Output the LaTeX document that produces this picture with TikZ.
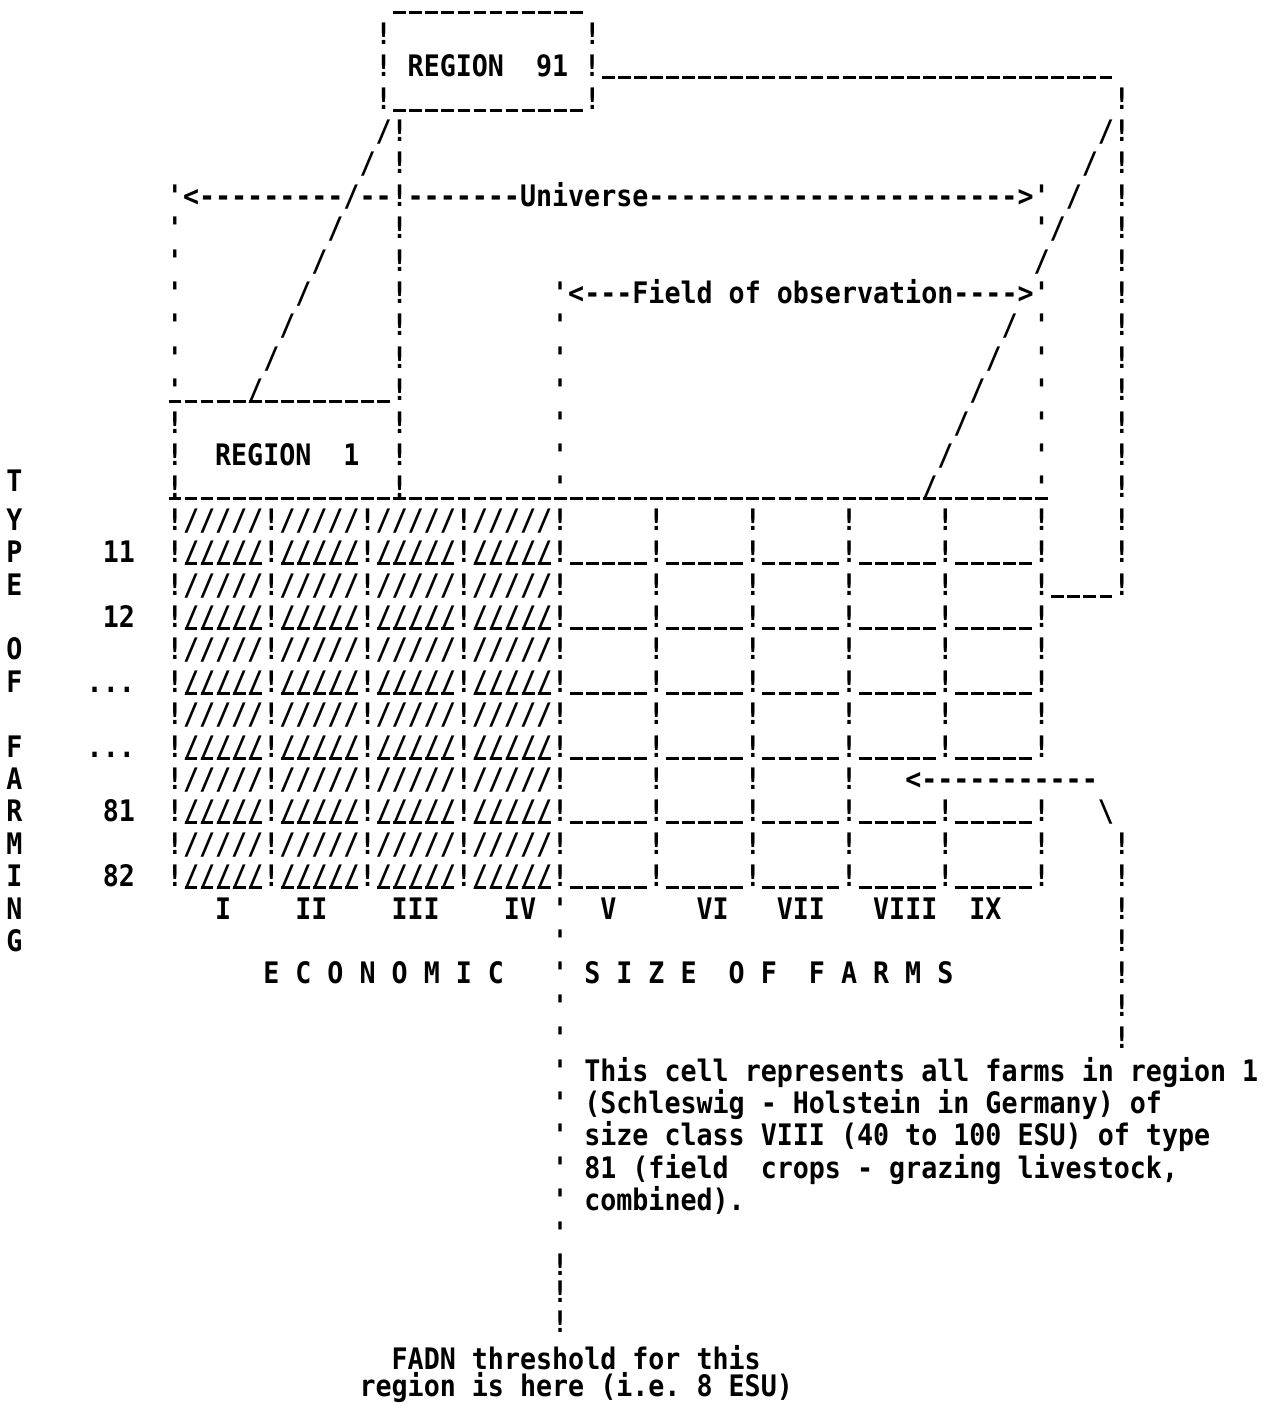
\documentclass[tikz,border=0pt]{standalone}
\usepackage{fontspec}
\setmonofont{DejaVu Sans Mono}[FakeStretch=0.9]
\frenchspacing
\tikzset{
  tt/.style={anchor=base west, inner sep=0pt, outer sep=0pt,
    font=\ttfamily\bfseries\fontsize{14.81}{16}\selectfont,
    xshift=-4.0125pt, yshift=-5.4pt},
  ubar/.style={line width=1.5pt, dash pattern=on 6.4pt off 1.625pt,
    dash phase=7.2125pt, yshift=-5.9pt}
}
\begin{document}
\begin{tikzpicture}[x=8.025pt, y=-16.2pt]
  \useasboundingbox (-10.903,-0.031) rectangle (68.349,43.333);

  % Region 91 box
  \draw[ubar] (13.5,0) -- (25.5,0);
  \node[tt] (b91a) at (13,1) {!};
  \node[tt] (b91b) at (26,1) {!};
  \node[tt] (reg91) at (13,2) {!~REGION~~91~!};
  \draw[ubar] (26.5,2) -- (58.5,2);
  \node[tt] (b91c) at (13,3) {!};
  \node[tt] (b91d) at (26,3) {!};
  \draw[ubar] (13.5,3) -- (25.5,3);

  % Universe and field of observation
  \node[tt] (univ) at (0,6) {'<---------/--!-------Universe----------------------->'};
  \node[tt] (field) at (24,9) {'<---Field of observation---->'};

  % Region 1 box
  \draw[ubar] (-0.5,12) -- (13.5,12);
  \node[tt] (reg1) at (0,14) {!~~REGION~~1~~!};
  \draw[ubar] (-0.5,15) -- (54.5,15);

  % Vertical strokes
  \foreach \r in {7,...,12} \node[tt] (ua\r) at (0,\r) {'};
  \foreach \r in {13,15} \node[tt] (ub\r) at (0,\r) {!};
  \foreach \r in {4,5,7,8,...,13,15} \node[tt] (uc\r) at (14,\r) {!};
  \foreach \r in {10,...,15,28,29,...,38} \node[tt] (ud\r) at (24,\r) {'};
  \foreach \r in {39,39.85,40.75} \node[tt] (ue\r) at (24,\r) {!};
  \foreach \r in {7,10,11,...,15} \node[tt] (uf\r) at (54,\r) {'};
  \foreach \r in {3,...,18,26,27,...,32} \node[tt] (ug\r) at (59,\r) {!};

  % Diagonals
  \foreach \r in {4,5,7,8,...,12} \node[tt] (dl\r) at ({17-\r},\r) {/};
  \foreach \r in {4,...,8,10,11,...,15} \node[tt] (dr\r) at ({62-\r},\r) {/};

  % Table of cells
  \foreach \r in {16,...,27} \node[tt] (hl\r) at (0,\r) {!/////!/////!/////!/////!};
  \foreach \r in {16,...,23,25,26,27} \node[tt] (hr\r) at (30,\r) {!~~~~~!~~~~~!~~~~~!~~~~~!};
  \node[tt] (ptr) at (30,24) {!~~~~~!~~~~~!~~~<-----------};
  \node[tt] (bsl) at (58,25) {\textbackslash};
  \foreach \r in {17,19,...,27}
    \foreach \g in {0,...,8}
      \draw[ubar] ({6*\g+0.5},\r) -- ({6*\g+5.5},\r);
  \draw[ubar] (54.5,18) -- (58.5,18);

  % Type of farming
  \foreach \r/\l in {14.8/T,16/Y,17/P,18/E,20/O,21/F,23/F,24/A,25/R,26/M,27/I,28/N,29/G}
    \node[tt] (tf\r) at (-10,\r) {\l};
  \node[tt] (t11) at (-4,17) {11};
  \node[tt] (t12) at (-4,19) {12};
  \node[tt] (tda) at (-5,21) {...};
  \node[tt] (tdb) at (-5,23) {...};
  \node[tt] (t81) at (-4,25) {81};
  \node[tt] (t82) at (-4,27) {82};

  % Size classes
  \node[tt] (esl) at (3,28) {I~~~~II~~~~III~~~~IV};
  \node[tt] (esr) at (27,28) {V~~~~~VI~~~VII~~~VIII~~IX};
  \node[tt] (econ) at (6,30) {E~C~O~N~O~M~I~C};
  \node[tt] (size) at (26,30) {S~I~Z~E~~O~F~~F~A~R~M~S};

  % Notes
  \node[tt] (na) at (26,33) {This cell represents all farms in region 1};
  \node[tt] (nb) at (26,34) {(Schleswig - Holstein in Germany) of};
  \node[tt] (nc) at (26,35) {size class VIII (40 to 100 ESU) of type};
  \node[tt] (nd) at (26,36) {81 (field~~crops - grazing livestock,};
  \node[tt] (ne) at (26,37) {combined).};
  \node[tt] (fadn) at (14,41.9) {FADN threshold for this};
  \node[tt] (fadnb) at (12,42.75) {region is here (i.e. 8 ESU)};
\end{tikzpicture}
\end{document}
